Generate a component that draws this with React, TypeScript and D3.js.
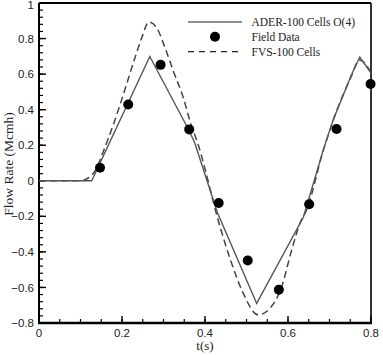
import React from 'react';
import * as d3 from 'd3';

// ADER-100 Cells O(4) (solid)
const aderT = [0, 0.127, 0.267, 0.36, 0.375, 0.43, 0.5245, 0.637, 0.685, 0.709, 0.753, 0.773, 0.8];
const aderQ = [0, 0, 0.699, 0.29, 0.215, -0.18, -0.69, -0.205, 0.174, 0.343, 0.596, 0.696, 0.606];

// FVS-100 Cells (dashed)
const fvsT = [0, 0.1, 0.111, 0.139, 0.155, 0.179, 0.203, 0.231, 0.247, 0.265, 0.284, 0.304, 0.324, 0.348, 0.364, 0.384, 0.436, 0.464, 0.492, 0.528, 0.557, 0.585, 0.609, 0.629, 0.645, 0.685, 0.709, 0.753, 0.772, 0.8];
const fvsQ = [0, 0, 0.006, 0.071, 0.165, 0.315, 0.484, 0.69, 0.8, 0.893, 0.859, 0.746, 0.615, 0.465, 0.334, 0.2, -0.257, -0.463, -0.632, -0.754, -0.716, -0.594, -0.388, -0.238, -0.163, 0.17, 0.34, 0.59, 0.68, 0.61];

// Field Data (dots)
const fieldT = [0.147, 0.215, 0.293, 0.362, 0.433, 0.503, 0.578, 0.651, 0.717, 0.799];
const fieldQ = [0.073, 0.429, 0.652, 0.289, -0.125, -0.448, -0.613, -0.132, 0.291, 0.544];

const xTicks = [0, 0.2, 0.4, 0.6, 0.8];
const yTicks = [-0.8, -0.6, -0.4, -0.2, 0, 0.2, 0.4, 0.6, 0.8, 1];

export default function App() {
  const width = 383;
  const height = 355;
  const left = 39;
  const right = 371;
  const top = 3;
  const bottom = 323;

  const x = d3.scaleLinear().domain([0, 0.8]).range([left, right]);
  const y = d3.scaleLinear().domain([-0.8, 1]).range([bottom, top]);

  const solid = d3
    .line<number>()
    .x((d, i) => x(aderT[i]))
    .y((d) => y(d))(aderQ);
  const dashed = d3
    .line<number>()
    .x((d, i) => x(fvsT[i]))
    .y((d) => y(d))
    .curve(d3.curveMonotoneX)(fvsQ);

  // minor ticks
  const xMinor = d3.range(0, 0.8001, 0.05);
  const yMinor = d3.range(-0.8, 1.0001, 0.04);

  const tickFont = "'Liberation Sans', Arial, sans-serif";
  const serif = "'Liberation Serif', 'Times New Roman', serif";

  return (
    <svg
      width={width}
      height={height}
      style={{ position: 'absolute', left: 0, top: 0, background: '#fff' }}
    >
      {/* minor ticks */}
      {xMinor.map((t, i) => (
        <line key={'xm' + i} x1={x(t)} x2={x(t)} y1={bottom} y2={bottom - 4} stroke="#000" strokeWidth={1.2} />
      ))}
      {yMinor.map((t, i) => (
        <line key={'ym' + i} x1={left} x2={left + 4} y1={y(t)} y2={y(t)} stroke="#000" strokeWidth={1.2} />
      ))}
      {/* major ticks */}
      {xTicks.map((t) => (
        <line key={'xt' + t} x1={x(t)} x2={x(t)} y1={bottom} y2={bottom - 7} stroke="#000" strokeWidth={1.4} />
      ))}
      {yTicks.map((t) => (
        <line key={'yt' + t} x1={left} x2={left + 7} y1={y(t)} y2={y(t)} stroke="#000" strokeWidth={1.4} />
      ))}

      {/* frame */}
      <line x1={left} x2={right} y1={top} y2={top} stroke="#000" strokeWidth={2} />
      <line x1={right} x2={right} y1={top} y2={bottom} stroke="#000" strokeWidth={1.6} />
      <line x1={left} x2={left} y1={top} y2={bottom} stroke="#000" strokeWidth={2} />
      <line x1={left - 1} x2={right + 1} y1={bottom} y2={bottom} stroke="#000" strokeWidth={2.5} />

      {/* tick labels */}
      {xTicks.map((t) => (
        <text key={'xl' + t} x={x(t)} y={337} textAnchor="middle" fontFamily={tickFont} fontSize={11.5} fill="#222">
          {t === 0 ? '0' : d3.format('.1f')(t)}
        </text>
      ))}
      {yTicks.map((t) => (
        <text
          key={'yl' + t}
          x={34}
          y={t === 1 ? 8.5 : y(t)}
          dy={t === 1 ? 0 : '0.36em'}
          textAnchor="end"
          fontFamily={tickFont}
          fontSize={11.5}
          fill="#222"
        >
          {t === 0 || t === 1 ? String(t) : d3.format('.1f')(t)}
        </text>
      ))}

      {/* axis titles */}
      <text x={205} y={350} textAnchor="middle" fontFamily={serif} fontSize={13} fill="#222">
        t(s)
      </text>
      <text
        transform={`translate(13, ${164}) rotate(-90)`}
        textAnchor="middle"
        fontFamily={serif}
        fontSize={13.5}
        fill="#222"
      >
        Flow Rate (Mcmh)
      </text>

      {/* series */}
      <path d={dashed || ''} fill="none" stroke="#444" strokeWidth={1.5} strokeDasharray="7,4" />
      <path d={solid || ''} fill="none" stroke="#555" strokeWidth={1.4} />
      {fieldQ.map((q, i) => (
        <circle key={'f' + i} cx={x(fieldT[i])} cy={y(q)} r={5} fill="#000" />
      ))}

      {/* legend */}
      <line x1={188} x2={242} y1={22} y2={22} stroke="#222" strokeWidth={1.2} />
      <text x={251.5} y={22} dy="0.35em" fontFamily={serif} fontSize={11.5} fill="#222">
        ADER-100 Cells O(4)
      </text>
      <circle cx={215} cy={36.7} r={5} fill="#000" />
      <text x={251.5} y={37} dy="0.35em" fontFamily={serif} fontSize={11.5} fill="#222">
        Field Data
      </text>
      <line x1={188} x2={242} y1={51.7} y2={51.7} stroke="#222" strokeWidth={1.2} strokeDasharray="6,5" />
      <text x={251.5} y={52} dy="0.35em" fontFamily={serif} fontSize={11.5} fill="#222">
        FVS-100 Cells
      </text>
    </svg>
  );
}
